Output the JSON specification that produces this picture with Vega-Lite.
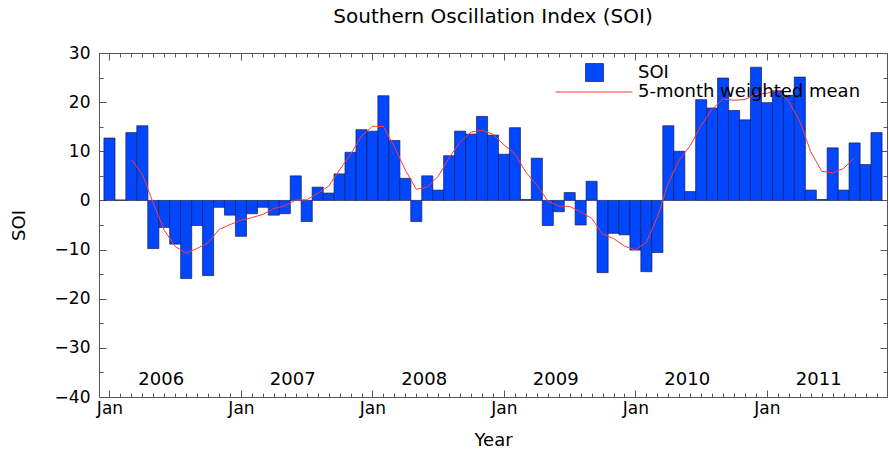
{
  "$schema": "https://vega.github.io/schema/vega-lite/v6.json",
  "width": 788,
  "height": 344,
  "autosize": "none",
  "padding": {"left": 99, "top": 53, "right": 2, "bottom": 55},
  "background": "white",
  "config": {
    "font": "DejaVu Sans",
    "view": {"stroke": null},
    "axis": {"grid": false, "domainColor": "#555555", "tickColor": "#555555", "labelColor": "black", "titleColor": "black", "labelFont": "DejaVu Sans", "titleFont": "DejaVu Sans", "titleFontWeight": "normal", "labelOverlap": false, "labelFlush": false}
  },
  "title": {"text": "Southern Oscillation Index (SOI)", "fontSize": 20, "fontWeight": "normal", "offset": 17, "font": "DejaVu Sans", "color": "black", "anchor": "middle"},
  "resolve": {"axis": {"x": "independent", "y": "independent"}},
  "datasets": {
    "soi": [
      {"date": "2006-01", "m": 0, "soi": 12.7}, {"date": "2006-02", "m": 1, "soi": 0.1}, {"date": "2006-03", "m": 2, "soi": 13.8}, {"date": "2006-04", "m": 3, "soi": 15.2},
      {"date": "2006-05", "m": 4, "soi": -9.8}, {"date": "2006-06", "m": 5, "soi": -5.5}, {"date": "2006-07", "m": 6, "soi": -8.9}, {"date": "2006-08", "m": 7, "soi": -15.9},
      {"date": "2006-09", "m": 8, "soi": -5.1}, {"date": "2006-10", "m": 9, "soi": -15.3}, {"date": "2006-11", "m": 10, "soi": -1.4}, {"date": "2006-12", "m": 11, "soi": -3.0},
      {"date": "2007-01", "m": 12, "soi": -7.3}, {"date": "2007-02", "m": 13, "soi": -2.7}, {"date": "2007-03", "m": 14, "soi": -1.4}, {"date": "2007-04", "m": 15, "soi": -3.0},
      {"date": "2007-05", "m": 16, "soi": -2.7}, {"date": "2007-06", "m": 17, "soi": 5.0}, {"date": "2007-07", "m": 18, "soi": -4.3}, {"date": "2007-08", "m": 19, "soi": 2.7},
      {"date": "2007-09", "m": 20, "soi": 1.5}, {"date": "2007-10", "m": 21, "soi": 5.4}, {"date": "2007-11", "m": 22, "soi": 9.8}, {"date": "2007-12", "m": 23, "soi": 14.4},
      {"date": "2008-01", "m": 24, "soi": 14.1}, {"date": "2008-02", "m": 25, "soi": 21.3}, {"date": "2008-03", "m": 26, "soi": 12.2}, {"date": "2008-04", "m": 27, "soi": 4.5},
      {"date": "2008-05", "m": 28, "soi": -4.3}, {"date": "2008-06", "m": 29, "soi": 5.0}, {"date": "2008-07", "m": 30, "soi": 2.1}, {"date": "2008-08", "m": 31, "soi": 9.1},
      {"date": "2008-09", "m": 32, "soi": 14.1}, {"date": "2008-10", "m": 33, "soi": 13.5}, {"date": "2008-11", "m": 34, "soi": 17.1}, {"date": "2008-12", "m": 35, "soi": 13.3},
      {"date": "2009-01", "m": 36, "soi": 9.4}, {"date": "2009-02", "m": 37, "soi": 14.8}, {"date": "2009-03", "m": 38, "soi": 0.2}, {"date": "2009-04", "m": 39, "soi": 8.6},
      {"date": "2009-05", "m": 40, "soi": -5.1}, {"date": "2009-06", "m": 41, "soi": -2.3}, {"date": "2009-07", "m": 42, "soi": 1.6}, {"date": "2009-08", "m": 43, "soi": -5.0},
      {"date": "2009-09", "m": 44, "soi": 3.9}, {"date": "2009-10", "m": 45, "soi": -14.7}, {"date": "2009-11", "m": 46, "soi": -6.7}, {"date": "2009-12", "m": 47, "soi": -7.0},
      {"date": "2010-01", "m": 48, "soi": -10.1}, {"date": "2010-02", "m": 49, "soi": -14.5}, {"date": "2010-03", "m": 50, "soi": -10.6}, {"date": "2010-04", "m": 51, "soi": 15.2},
      {"date": "2010-05", "m": 52, "soi": 10.0}, {"date": "2010-06", "m": 53, "soi": 1.8}, {"date": "2010-07", "m": 54, "soi": 20.5}, {"date": "2010-08", "m": 55, "soi": 18.8},
      {"date": "2010-09", "m": 56, "soi": 24.9}, {"date": "2010-10", "m": 57, "soi": 18.3}, {"date": "2010-11", "m": 58, "soi": 16.4}, {"date": "2010-12", "m": 59, "soi": 27.1},
      {"date": "2011-01", "m": 60, "soi": 19.9}, {"date": "2011-02", "m": 61, "soi": 22.3}, {"date": "2011-03", "m": 62, "soi": 21.4}, {"date": "2011-04", "m": 63, "soi": 25.1},
      {"date": "2011-05", "m": 64, "soi": 2.1}, {"date": "2011-06", "m": 65, "soi": 0.2}, {"date": "2011-07", "m": 66, "soi": 10.7}, {"date": "2011-08", "m": 67, "soi": 2.1},
      {"date": "2011-09", "m": 68, "soi": 11.7}, {"date": "2011-10", "m": 69, "soi": 7.3}, {"date": "2011-11", "m": 70, "soi": 13.8}
    ],
    "mean": [
      {"m": 2, "mean": 8.32}, {"m": 3, "mean": 5.36}, {"m": 4, "mean": -0.57}, {"m": 5, "mean": -6.07}, {"m": 6, "mean": -9.38}, {"m": 7, "mean": -10.72},
      {"m": 8, "mean": -9.78}, {"m": 9, "mean": -8.64}, {"m": 10, "mean": -5.91}, {"m": 11, "mean": -4.93}, {"m": 12, "mean": -4.01}, {"m": 13, "mean": -3.5},
      {"m": 14, "mean": -2.84}, {"m": 15, "mean": -1.66}, {"m": 16, "mean": -1.09}, {"m": 17, "mean": 0.08}, {"m": 18, "mean": 0.14}, {"m": 19, "mean": 1.43},
      {"m": 20, "mean": 2.91}, {"m": 21, "mean": 6.21}, {"m": 22, "mean": 9.4}, {"m": 23, "mean": 13.08}, {"m": 24, "mean": 15.08}, {"m": 25, "mean": 15.04},
      {"m": 26, "mean": 10.89}, {"m": 27, "mean": 6.18}, {"m": 28, "mean": 2.27}, {"m": 29, "mean": 2.69}, {"m": 30, "mean": 4.92}, {"m": 31, "mean": 8.69},
      {"m": 32, "mean": 11.86}, {"m": 33, "mean": 13.92}, {"m": 34, "mean": 14.27}, {"m": 35, "mean": 13.47}, {"m": 36, "mean": 11.3}, {"m": 37, "mean": 9.5},
      {"m": 38, "mean": 5.74}, {"m": 39, "mean": 3.17}, {"m": 40, "mean": -0.1}, {"m": 41, "mean": -1.14}, {"m": 42, "mean": -1.22}, {"m": 43, "mean": -2.33},
      {"m": 44, "mean": -3.64}, {"m": 45, "mean": -6.86}, {"m": 46, "mean": -7.74}, {"m": 47, "mean": -9.31}, {"m": 48, "mean": -10.07}, {"m": 49, "mean": -8.52},
      {"m": 50, "mean": -3.39}, {"m": 51, "mean": 3.52}, {"m": 52, "mean": 8.21}, {"m": 53, "mean": 11.16}, {"m": 54, "mean": 15.29}, {"m": 55, "mean": 18.59},
      {"m": 56, "mean": 20.64}, {"m": 57, "mean": 20.38}, {"m": 58, "mean": 20.53}, {"m": 59, "mean": 21.61}, {"m": 60, "mean": 21.81}, {"m": 61, "mean": 22.41},
      {"m": 62, "mean": 20.11}, {"m": 63, "mean": 16.09}, {"m": 64, "mean": 9.89}, {"m": 65, "mean": 5.93}, {"m": 66, "mean": 5.61}, {"m": 67, "mean": 6.51},
      {"m": 68, "mean": 8.71}
    ],
    "years": [
      {"year": "2006", "m": 5}, {"year": "2007", "m": 17}, {"year": "2008", "m": 29},
      {"year": "2009", "m": 41}, {"year": "2010", "m": 53}, {"year": "2011", "m": 65}
    ]
  },
  "layer": [
    {
      "data": {"name": "soi"},
      "mark": {"type": "bar", "width": 11.1, "stroke": "#1c1c50", "strokeWidth": 0.7},
      "encoding": {
        "x": {
          "field": "m", "type": "quantitative",
          "scale": {"domain": [-0.5, 70.5], "nice": false, "zero": false},
          "axis": {
            "orient": "bottom",
            "values": [0,1,2,3,4,5,6,7,8,9,10,11,12,13,14,15,16,17,18,19,20,21,22,23,24,25,26,27,28,29,30,31,32,33,34,35,36,37,38,39,40,41,42,43,44,45,46,47,48,49,50,51,52,53,54,55,56,57,58,59,60,61,62,63,64,65,66,67,68,69,70],
            "labelExpr": "datum.value % 12 == 0 ? 'Jan' : ''",
            "tickSize": {"condition": {"test": "datum.value % 12 == 0", "value": -7}, "value": -4},
            "labelPadding": 10,
            "labelFontSize": 17,
            "title": "Year",
            "titleFontSize": 18,
            "titlePadding": 12
          }
        },
        "y": {
          "field": "soi", "type": "quantitative",
          "scale": {"domain": [-40, 30], "nice": false},
          "axis": {
            "orient": "left",
            "values": [-40,-35,-30,-25,-20,-15,-10,-5,0,5,10,15,20,25,30],
            "labelExpr": "datum.value % 10 == 0 ? datum.label : ''",
            "tickSize": {"condition": {"test": "datum.value % 10 == 0", "value": -7}, "value": -4},
            "labelPadding": 16,
            "labelFontSize": 17,
            "title": "SOI",
            "titleFontSize": 18,
            "titlePadding": 26
          }
        },
        "fill": {
          "datum": "SOI", "type": "nominal",
          "scale": {"range": ["#0047ff"]},
          "legend": {"orient": "none", "legendX": 486, "legendY": 10, "title": null, "symbolType": "square", "symbolSize": 324, "symbolStrokeColor": "#1c1c50", "symbolStrokeWidth": 0.7, "labelFontSize": 18, "labelOffset": 34, "padding": 0, "labelColor": "black", "labelFont": "DejaVu Sans", "labelLimit": 0}
        }
      }
    },
    {
      "data": {"name": "mean"},
      "mark": {"type": "line", "strokeWidth": 1, "interpolate": "linear"},
      "encoding": {
        "x": {
          "field": "m", "type": "quantitative",
          "axis": {
            "orient": "top",
            "values": [0,1,2,3,4,5,6,7,8,9,10,11,12,13,14,15,16,17,18,19,20,21,22,23,24,25,26,27,28,29,30,31,32,33,34,35,36,37,38,39,40,41,42,43,44,45,46,47,48,49,50,51,52,53,54,55,56,57,58,59,60,61,62,63,64,65,66,67,68,69,70],
            "labels": false,
            "tickSize": {"condition": {"test": "datum.value % 12 == 0", "value": -7}, "value": -4},
            "title": null
          }
        },
        "y": {
          "field": "mean", "type": "quantitative",
          "axis": {
            "orient": "right",
            "values": [-40,-35,-30,-25,-20,-15,-10,-5,0,5,10,15,20,25,30],
            "labels": false,
            "tickSize": {"condition": {"test": "datum.value % 10 == 0", "value": -7}, "value": -4},
            "title": null
          }
        },
        "stroke": {
          "datum": "5-month weighted mean", "type": "nominal",
          "scale": {"range": ["#ff3a3a"]},
          "legend": {"orient": "none", "legendX": 456, "legendY": 0, "title": null, "symbolType": "stroke", "symbolSize": 5929, "symbolStrokeWidth": 1, "labelFontSize": 18, "labelOffset": 5, "padding": 0, "labelColor": "black", "labelFont": "DejaVu Sans", "labelLimit": 0}
        }
      }
    },
    {
      "data": {"name": "years"},
      "mark": {"type": "text", "fontSize": 18, "dx": -3, "color": "black", "font": "DejaVu Sans"},
      "encoding": {
        "x": {"field": "m", "type": "quantitative", "axis": null},
        "y": {"datum": -36.5, "type": "quantitative", "axis": null},
        "text": {"field": "year"}
      }
    }
  ]
}
